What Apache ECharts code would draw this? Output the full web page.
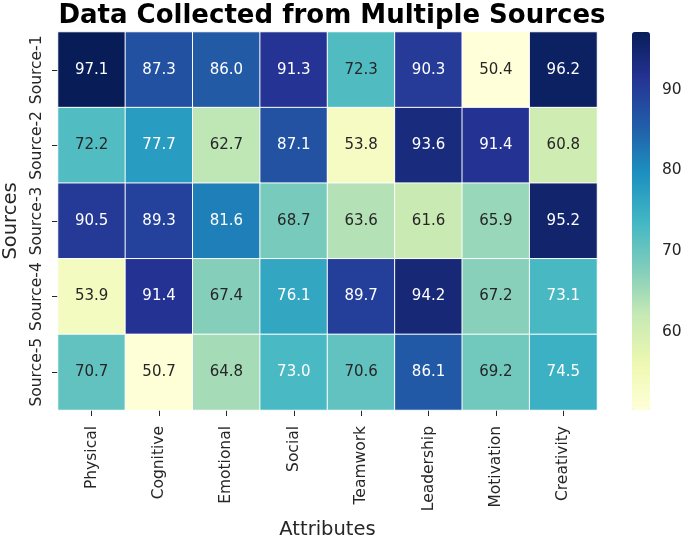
<!DOCTYPE html>
<html><head><meta charset="utf-8">
<script src="https://cdn.jsdelivr.net/npm/echarts@6/dist/echarts.min.js"></script>
<style>html,body{margin:0;padding:0;background:#fff}#c{width:685px;height:540px}</style>
</head><body><div id="c"></div>
<script>
const attributes = ["Physical","Cognitive","Emotional","Social","Teamwork","Leadership","Motivation","Creativity"];
const sources = ["Source-1","Source-2","Source-3","Source-4","Source-5"];
const source1 = [97.1,87.3,86.0,91.3,72.3,90.3,50.4,96.2];
const source2 = [72.2,77.7,62.7,87.1,53.8,93.6,91.4,60.8];
const source3 = [90.5,89.3,81.6,68.7,63.6,61.6,65.9,95.2];
const source4 = [53.9,91.4,67.4,76.1,89.7,94.2,67.2,73.1];
const source5 = [70.7,50.7,64.8,73.0,70.6,86.1,69.2,74.5];
const colorbarTicks = [60,70,80,90];
const rows = [source1,source2,source3,source4,source5];
const vmin = 50.4, vmax = 97.1;
const cmap = ['#ffffd9','#edf8b1','#c7e9b4','#7fcdbb','#41b6c4','#1d91c0','#225ea8','#253494','#081d58'];

const data = [];
rows.forEach((r,i)=>r.forEach((v,j)=>{
  data.push({value:[j,i,v], label:{color: v>=72.75 ? '#ffffff' : '#262626'}});
}));

const font = 'DejaVu Sans';
const chart = echarts.init(document.getElementById('c'));
chart.setOption({
  animation:false,
  textStyle:{fontFamily:font},
  title:{text:'Data Collected from Multiple Sources',left:327,textAlign:'center',top:-2,
    textStyle:{fontFamily:font,fontWeight:'bold',fontSize:26,color:'#000'}},
  grid:[{left:58,top:32,width:539,height:378,outerBoundsMode:'none',containLabel:false},
        {left:632,top:32,width:18,height:378,outerBoundsMode:'none',containLabel:false}],
  xAxis:[{type:'category',data:attributes,gridIndex:0,
    name:'Attributes',nameLocation:'middle',nameGap:110,nameTextStyle:{fontSize:19.5,color:'#262626',fontFamily:font},
    axisLine:{show:false},axisTick:{show:true,alignWithLabel:true,length:6,lineStyle:{color:'#262626'}},
    axisLabel:{interval:0,rotate:90,fontSize:15.5,color:'#262626',margin:16,fontFamily:font},splitLine:{show:false}},
    {type:'value',gridIndex:1,show:false,min:0,max:1}],
  yAxis:[{type:'category',data:sources,inverse:true,gridIndex:0,
    name:'Sources',nameLocation:'middle',nameGap:37,nameRotate:90,nameTextStyle:{fontSize:19.5,color:'#262626',fontFamily:font},
    axisLine:{show:false},axisTick:{show:true,alignWithLabel:true,length:6,lineStyle:{color:'#262626'}},
    axisLabel:{interval:0,rotate:90,fontSize:15.5,color:'#262626',margin:13,fontFamily:font,verticalAlign:'bottom',align:'center'},splitLine:{show:false}},
    {type:'value',gridIndex:1,position:'right',min:vmin,max:vmax,
     axisLine:{show:false},splitLine:{show:false},
     axisTick:{show:true,length:6,lineStyle:{color:'#262626'},customValues:colorbarTicks},
     axisLabel:{fontSize:15.5,color:'#262626',margin:12,fontFamily:font,customValues:colorbarTicks}}],
  visualMap:{type:'continuous',min:vmin,max:vmax,dimension:2,seriesIndex:0,
    inRange:{color:cmap},orient:'vertical',left:632,top:32,itemWidth:18,itemHeight:378,
    padding:0,calculable:false,showLabel:false,text:null,hoverLink:false},
  series:[{type:'heatmap',xAxisIndex:0,yAxisIndex:0,data:data,
    itemStyle:{borderColor:'#ffffff',borderWidth:1},
    label:{show:true,fontSize:15,fontFamily:font,formatter:p=>p.value[2].toFixed(1)},
    emphasis:{disabled:true}}]
});
</script></body></html>
